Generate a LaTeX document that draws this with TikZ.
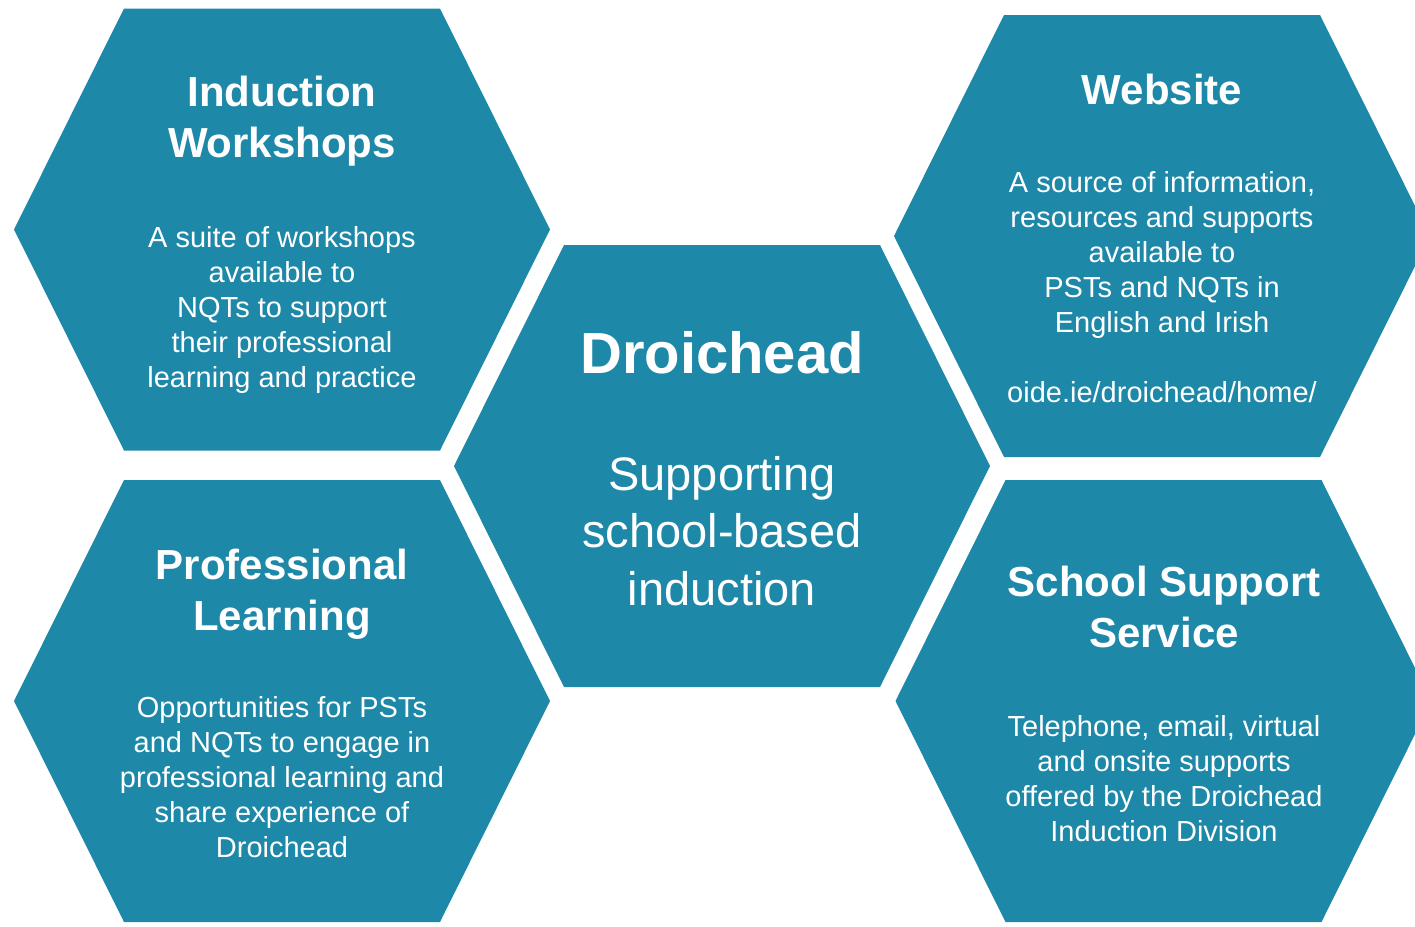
\documentclass[tikz,border=0pt]{standalone}
\usepackage{fontspec}
\setmainfont{Liberation Sans}
\usepackage{tikz}

\definecolor{hexblue}{RGB}{30,136,168}

\begin{document}
\begin{tikzpicture}[x=0.5pt,y=-0.5pt,
        hexfill/.style={fill=hexblue},
        headtext/.style={text=white, align=center, anchor=base, font=\bfseries\fontsize{21}{25.5}\selectfont},
        bodytext/.style={text=white, align=center, anchor=base, font=\fontsize{14.5}{17.5}\selectfont}]
            \useasboundingbox (0,0) rectangle (1415,927);
            \clip (0,0) rectangle (1415,927);
            \foreach \cx/\cy in {282/229.5, 722/466, 1162/236, 282/701, 1163.5/701}
                \fill[hexfill] (\cx-268,\cy) -- (\cx-158,\cy-221) -- (\cx+158,\cy-221)
                    -- (\cx+268,\cy) -- (\cx+158,\cy+221) -- (\cx-158,\cy+221) -- cycle;

            % base anchor sits on the last line
            \node[headtext] (workshops) at (282,157) {Induction\\Workshops};
            \node[bodytext] (workshopsinfo) at (282,387) {A suite of workshops\\available to\\NQTs to support\\their professional\\learning and practice};

            \node[headtext, font=\bfseries\fontsize{29}{34}\selectfont] (droichead) at (722,373) {Droichead};
            \node[bodytext, font=\fontsize{23.5}{28.75}\selectfont] (supporting) at (722,605) {Supporting\\school-based\\induction};

            \node[headtext] (website) at (1162,104) {Website};
            \node[bodytext] (websiteinfo) at (1162,402) {A source of information,\\resources and supports\\available to\\PSTs and NQTs in\\English and Irish\\[17.5pt]oide.ie/droichead/home/};

            \node[headtext] (learning) at (282,630) {Professional\\Learning};
            \node[bodytext] (learninginfo) at (282,857) {Opportunities for PSTs\\and NQTs to engage in\\professional learning and\\share experience of\\Droichead};

            \node[headtext] (service) at (1164,647) {School Support\\Service};
            \node[bodytext] (serviceinfo) at (1164,841) {Telephone, email, virtual\\and onsite supports\\offered by the Droichead\\Induction Division};
        \end{tikzpicture}
\end{document}
